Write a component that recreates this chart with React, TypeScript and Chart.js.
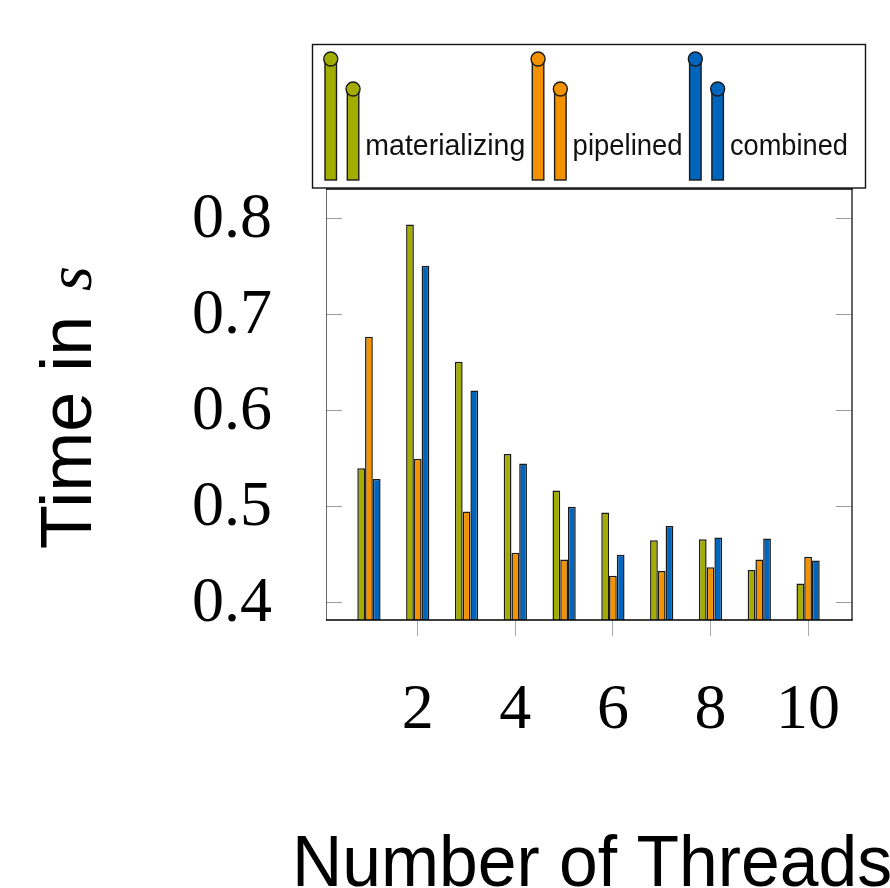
import React, { useEffect, useRef } from 'react';
import { Chart, registerables } from 'chart.js';

Chart.register(...registerables);

// ---- data ----
const THREADS = [1, 2, 3, 4, 5, 6, 7, 8, 9, 10];
const MATERIALIZING = [0.539, 0.793, 0.650, 0.554, 0.516, 0.493, 0.464, 0.465, 0.433, 0.419];
const PIPELINED = [0.676, 0.549, 0.494, 0.451, 0.444, 0.427, 0.432, 0.436, 0.444, 0.447];
const COMBINED = [0.528, 0.750, 0.620, 0.544, 0.499, 0.449, 0.479, 0.467, 0.466, 0.443];
const SERIES_NAMES = ['materializing', 'pipelined', 'combined'];
const X_TICKS = [2, 4, 6, 8, 10];
const Y_TICKS = [0.4, 0.5, 0.6, 0.7, 0.8];
const X_TITLE = 'Number of Threads';
const Y_TITLE = 'Time in';
const Y_UNIT = 's';

// ---- styles / layout ----
const COLORS = ['#A2AD00', '#F39200', '#0065BD'];
const X_MIN = 0.12;
const X_MAX = 10.9;
const Y_MIN = 0.381;
const Y_MAX = 0.83;
const W = 890;
const H = 888;
const LEGEND_TEXT_W = [160, 110, 118];

const decorPlugin = {
  id: 'decor',
  afterDatasetsDraw(chart: any) {
    const { ctx, chartArea: a, scales } = chart;
    const ys = scales.y;
    ctx.save();
    // inner ticks on left and right
    ctx.strokeStyle = '#9a9a9a';
    ctx.lineWidth = 1;
    Y_TICKS.forEach((v) => {
      const py = Math.round(ys.getPixelForValue(v)) + 0.5;
      ctx.beginPath();
      ctx.moveTo(a.left, py);
      ctx.lineTo(a.left + 16, py);
      ctx.moveTo(a.right - 16, py);
      ctx.lineTo(a.right, py);
      ctx.stroke();
    });
    // frame
    ctx.strokeStyle = '#666';
    ctx.lineWidth = 1;
    ctx.beginPath();
    ctx.moveTo(a.left + 0.5, a.top);
    ctx.lineTo(a.left + 0.5, a.bottom);
    ctx.stroke();
    ctx.strokeStyle = '#333';
    ctx.lineWidth = 1.5;
    ctx.beginPath();
    ctx.moveTo(a.right, a.top);
    ctx.lineTo(a.right, a.bottom);
    ctx.stroke();
    ctx.strokeStyle = '#000';
    ctx.lineWidth = 1.6;
    ctx.beginPath();
    ctx.moveTo(a.left, a.bottom);
    ctx.lineTo(a.right + 0.75, a.bottom);
    ctx.moveTo(a.left, a.top);
    ctx.lineTo(a.right + 0.75, a.top);
    ctx.stroke();
    ctx.restore();
  },
  afterDraw(chart: any) {
    const { ctx } = chart;
    ctx.save();
    // legend box
    ctx.fillStyle = '#fff';
    ctx.fillRect(312, 44, 554, 144);
    ctx.strokeStyle = '#111';
    ctx.lineWidth = 1.4;
    ctx.strokeRect(312.5, 44.5, 553, 143.5);

    let cx = 325;
    const bw = 11.5;
    const r = 7;
    chart.data.datasets.forEach((ds: any, i: number) => {
      const col = ds.backgroundColor;
      const bars = [
        { x: cx, top: 59 },
        { x: cx + 22.3, top: 89 },
      ];
      bars.forEach((b) => {
        ctx.fillStyle = col;
        ctx.strokeStyle = '#1a1a1a';
        ctx.lineWidth = 1.4;
        ctx.fillRect(b.x, b.top, bw, 180 - b.top);
        ctx.strokeRect(b.x, b.top, bw, 180 - b.top);
        ctx.beginPath();
        ctx.arc(b.x + bw / 2, b.top, r, 0, Math.PI * 2);
        ctx.fill();
        ctx.stroke();
      });
      const tx = cx + 22.3 + bw + 6.5;
      ctx.fillStyle = '#111';
      ctx.font = '29px "Liberation Sans", Arial, sans-serif';
      ctx.textBaseline = 'alphabetic';
      ctx.textAlign = 'left';
      ctx.fillText(ds.label, tx, 155, LEGEND_TEXT_W[i]);
      const tw = Math.min(ctx.measureText(ds.label).width, LEGEND_TEXT_W[i]);
      cx = tx + tw + 7;
    });

    // y title
    ctx.save();
    ctx.translate(91, 549);
    ctx.rotate(-Math.PI / 2);
    ctx.fillStyle = '#000';
    ctx.textBaseline = 'alphabetic';
    ctx.textAlign = 'left';
    ctx.font = '72px "Liberation Sans", Arial, sans-serif';
    ctx.fillText(Y_TITLE, 0, 0, 234);
    ctx.font = 'italic 64px "Liberation Serif", serif';
    ctx.fillText(Y_UNIT, 258, 0);
    ctx.restore();

    // x title
    ctx.fillStyle = '#000';
    ctx.font = '72px "Liberation Sans", Arial, sans-serif';
    ctx.textBaseline = 'alphabetic';
    ctx.textAlign = 'left';
    ctx.fillText(X_TITLE, 292, 886, 600);
    ctx.restore();
  },
};

export default function App() {
  const ref = useRef<HTMLCanvasElement | null>(null);

  useEffect(() => {
    if (!ref.current) return;
    const series = [MATERIALIZING, PIPELINED, COMBINED];
    const chart = new Chart(ref.current, {
      type: 'bar',
      data: {
        datasets: series.map((vals, i) => ({
          label: SERIES_NAMES[i],
          data: THREADS.map((t, j) => ({ x: t, y: vals[j] })),
          backgroundColor: COLORS[i],
          borderColor: '#1a1a1a',
          borderWidth: 1.5,
          borderSkipped: 'start',
          base: Y_MIN,
          categoryPercentage: 0.477,
          barPercentage: 1,
        })),
      },
      options: {
        responsive: false,
        animation: false,
        devicePixelRatio: 1,
        layout: { padding: { top: 189, right: 38, left: 0, bottom: 0 } },
        plugins: {
          legend: { display: false },
          tooltip: { enabled: false },
          title: { display: false },
        },
        scales: {
          x: {
            type: 'linear',
            min: X_MIN,
            max: X_MAX,
            offset: false,
            afterBuildTicks: (s: any) => {
              s.ticks = X_TICKS.map((v) => ({ value: v }));
            },
            afterFit: (s: any) => {
              s.height = H - 620;
            },
            grid: {
              display: true,
              drawOnChartArea: false,
              drawTicks: true,
              tickLength: 16,
              color: '#aaa',
              lineWidth: 1,
              offset: false,
            },
            border: { display: false },
            ticks: {
              padding: 37,
              maxRotation: 0,
              autoSkip: false,
              color: '#000',
              font: { family: '"Liberation Serif", "Times New Roman", serif', size: 64 },
              callback: (v: any) => String(v),
            },
          },
          y: {
            type: 'linear',
            min: Y_MIN,
            max: Y_MAX,
            afterBuildTicks: (s: any) => {
              s.ticks = Y_TICKS.map((v) => ({ value: v }));
            },
            afterFit: (s: any) => {
              s.width = 326;
            },
            grid: { display: false, drawTicks: false },
            border: { display: false },
            ticks: {
              padding: 54,
              labelOffset: 2,
              color: '#000',
              font: { family: '"Liberation Serif", "Times New Roman", serif', size: 64 },
              callback: (v: any) => Number(v).toFixed(1),
            },
          },
        },
      },
      plugins: [decorPlugin],
    } as any);
    return () => chart.destroy();
  }, []);

  return (
    <div style={{ position: 'fixed', left: 0, top: 0, width: W, height: H, background: '#fff' }}>
      <canvas ref={ref} width={W} height={H} style={{ display: 'block', width: W, height: H }} />
    </div>
  );
}
